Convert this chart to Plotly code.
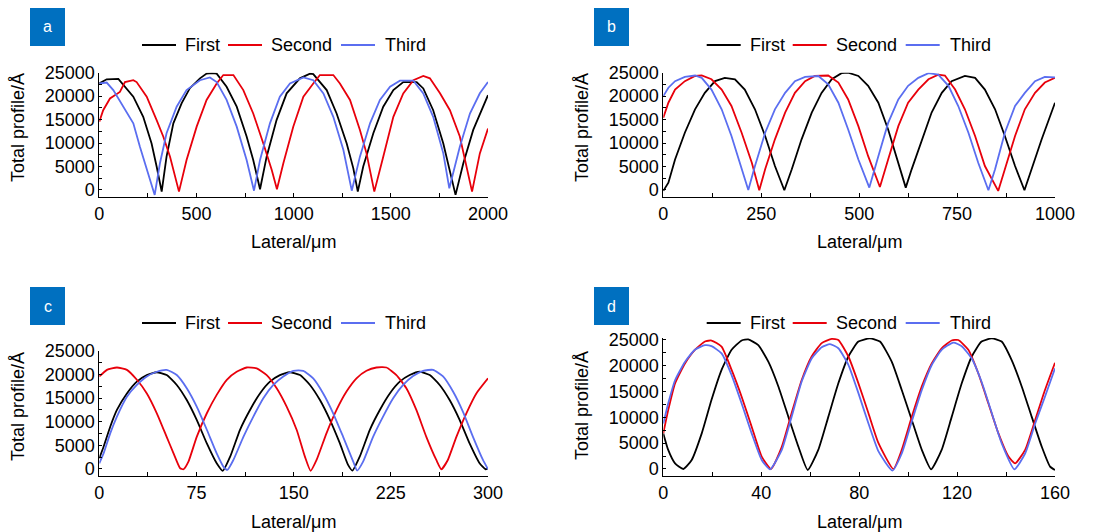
import plotly.graph_objects as go

W, H = 1111, 532

# ---------------- data ----------------
# Panel a
a_first_x = [0, 38, 98, 175, 226, 269, 295, 321, 346, 381, 424, 466, 518, 552, 580, 604, 655, 707, 758, 792, 827, 861, 912, 964, 1032, 1084, 1101, 1170, 1221, 1273, 1307, 1330, 1358, 1410, 1461, 1513, 1564, 1633, 1667, 1718, 1770, 1804, 1833, 1873, 1924, 2000]
a_first_y = [22700, 23600, 23700, 19900, 15600, 9900, 5000, -350, 7100, 14200, 18500, 21700, 23800, 24800, 24900, 24800, 22000, 17750, 11400, 6400, 150, 7100, 14900, 20600, 23800, 24800, 24700, 21300, 16300, 9900, 4600, -350, 5000, 12100, 17750, 21300, 23000, 23000, 21650, 17000, 9900, 4300, -1050, 5700, 12800, 20200]
a_second_x = [0, 20, 55, 106, 132, 175, 192, 244, 295, 329, 364, 410, 449, 501, 552, 604, 638, 690, 741, 792, 844, 887, 914, 947, 998, 1050, 1101, 1135, 1204, 1238, 1290, 1341, 1375, 1415, 1461, 1513, 1564, 1616, 1667, 1701, 1753, 1804, 1855, 1890, 1918, 1958, 2000]
a_second_y = [14550, 17000, 19500, 20900, 23000, 23400, 23000, 19900, 14900, 11400, 7100, -350, 6400, 13500, 19200, 22700, 24500, 24500, 21300, 16300, 9900, 4300, 150, 5700, 13500, 19900, 22700, 24500, 24500, 22700, 19200, 12800, 7800, -350, 7100, 15600, 20600, 23400, 24300, 23800, 20600, 17000, 11400, 5000, -350, 7800, 13100]
a_third_x = [0, 38, 72, 123, 175, 209, 252, 285, 312, 346, 398, 449, 518, 569, 604, 655, 707, 758, 796, 827, 878, 929, 981, 1050, 1101, 1153, 1204, 1256, 1299, 1341, 1393, 1444, 1496, 1547, 1616, 1667, 1718, 1770, 1801, 1855, 1907, 1958, 2000]
a_third_y = [22700, 22900, 21300, 17750, 14200, 9200, 3550, -1050, 5700, 12100, 17750, 21300, 23400, 24000, 23000, 19200, 13500, 6400, -150, 6400, 14200, 19900, 22700, 24000, 23400, 20600, 15600, 8500, -150, 7100, 14200, 19200, 22000, 23300, 23300, 20600, 15600, 7800, 350, 9200, 16300, 20600, 23000]

# Panel b
b_first_x = [0, 13, 30, 55, 81, 106, 132, 157, 183, 208, 234, 260, 285, 309, 328, 353, 379, 404, 430, 455, 472, 498, 523, 549, 574, 600, 619, 634, 660, 685, 711, 736, 770, 796, 821, 847, 872, 898, 922, 940, 966, 1000]
b_first_y = [-200, 1560, 6500, 12200, 17200, 20700, 23200, 23900, 23600, 21400, 17200, 11500, 5100, -70, 4400, 10800, 16500, 20700, 23600, 24900, 25000, 24300, 22200, 18600, 12900, 5800, 500, 4400, 10800, 16500, 20700, 23200, 24300, 23900, 21400, 17200, 11500, 5100, -70, 4400, 10800, 18600]
b_second_x = [0, 13, 30, 55, 81, 98, 123, 149, 174, 200, 226, 245, 260, 285, 311, 336, 362, 387, 421, 447, 472, 498, 523, 553, 574, 600, 625, 651, 677, 702, 719, 745, 770, 796, 821, 855, 872, 898, 923, 949, 974, 1000]
b_second_y = [15400, 18600, 21400, 23200, 24300, 24400, 23600, 21400, 17900, 12200, 5800, -70, 4400, 10800, 16500, 20700, 23200, 24300, 24400, 22900, 19300, 13600, 7200, 640, 6500, 13600, 18600, 21400, 23600, 24600, 24400, 21400, 17200, 11500, 5100, -200, 4400, 11500, 17200, 20700, 22900, 23900]
b_third_x = [0, 13, 30, 55, 81, 98, 123, 149, 174, 200, 217, 234, 260, 285, 311, 336, 362, 396, 421, 447, 472, 498, 526, 549, 574, 600, 625, 651, 677, 702, 728, 753, 779, 804, 830, 847, 872, 898, 923, 949, 974, 1000]
b_third_y = [20000, 21800, 23200, 24100, 24400, 23900, 21400, 17200, 11500, 4400, 0, 5100, 12200, 17200, 20700, 23200, 24100, 24300, 22500, 18600, 12900, 6500, 500, 7200, 14300, 19300, 22200, 23900, 24900, 24600, 22200, 17900, 12200, 5800, -70, 4400, 12200, 17900, 20700, 23200, 24100, 24000]

# Panel c
c_first_x = [0, 3.3, 8.5, 13.6, 21.3, 29, 36.7, 44.4, 52, 59.8, 67.5, 75.2, 83, 90.6, 95.3, 101, 108.6, 116.3, 124, 131.7, 139.4, 147, 154.9, 162.6, 170.3, 178, 185.7, 192, 195.4, 201, 208.8, 216.5, 224.2, 231.9, 239.6, 247.3, 255, 262.7, 270.4, 278.1, 285.8, 293.5, 298.1, 300]
c_first_y = [2260, 4700, 9000, 12500, 16000, 18500, 19900, 20500, 19900, 17800, 14600, 10400, 5400, 1200, -400, 2600, 8300, 12500, 16000, 18500, 19900, 20500, 19900, 17800, 14600, 10400, 5400, 850, -350, 2600, 8300, 12500, 16000, 18500, 19900, 20600, 19900, 17800, 14600, 10400, 5400, 1200, -70, 140]
c_second_x = [0, 5.9, 13.6, 21.3, 29, 36.7, 44.4, 52, 57.3, 62.4, 65, 68.8, 75.2, 83, 90.6, 98.4, 106, 113.8, 121.5, 129.2, 136.9, 144.6, 152.3, 158.7, 163.1, 167.7, 175.4, 183.1, 190.8, 198.5, 206.2, 213.9, 221.6, 229.3, 237, 244.7, 252.4, 260.1, 264, 269, 275.6, 283.3, 291, 300]
c_second_y = [19600, 21000, 21500, 21000, 18900, 16000, 11800, 6800, 3300, 140, -70, 1550, 6800, 11800, 15700, 18900, 20600, 21500, 21300, 19900, 17100, 13200, 8300, 2600, -400, 1900, 7600, 12500, 16400, 19200, 20800, 21500, 21500, 19900, 17100, 12500, 6800, 1900, -70, 1900, 6800, 11800, 16000, 19200]
c_third_x = [0, 3.3, 8.5, 13.6, 21.3, 29, 36.7, 44.4, 52, 59.8, 67.5, 75.2, 83, 90.6, 95.8, 98.9, 103.5, 111.2, 118.9, 126.6, 134.3, 142, 149.7, 157.4, 165.1, 172.8, 180.5, 188.2, 196, 199, 203.6, 211.3, 219, 226.8, 234.5, 242.2, 249.9, 257.6, 265.3, 273, 280.7, 288.4, 296.1, 300]
c_third_y = [1200, 3300, 7600, 11100, 15300, 17800, 19600, 20600, 21000, 19900, 17100, 13200, 8300, 3300, 500, -200, 1900, 6800, 11100, 15000, 17800, 19600, 20800, 20800, 19200, 16000, 11800, 6800, 1550, -350, 1550, 6800, 11100, 15000, 17800, 19700, 20800, 21000, 19600, 16400, 12100, 6800, 1900, -70]

# Panel d
d_first_x = [0, 2, 4.8, 8.2, 11.6, 15.7, 19.7, 23.8, 27.9, 32, 34.7, 38.8, 42.9, 47, 51.1, 55.2, 59, 63.3, 67.4, 71.5, 75.6, 79.7, 84.4, 88.5, 93.3, 97.4, 101.5, 105.6, 109.4, 113.7, 117.8, 121.9, 126, 130, 134.2, 138.2, 142.3, 146.4, 150.5, 154.6, 158, 160]
d_first_y = [6900, 3700, 1100, 0, 1750, 6900, 13400, 19200, 23100, 24900, 25100, 24000, 20800, 16000, 10100, 4300, -200, 3700, 10100, 16600, 21800, 24700, 25300, 24700, 20800, 15300, 9500, 3700, -60, 3700, 10100, 16600, 21800, 24700, 25300, 24700, 21100, 16000, 10100, 4300, 450, -200]
d_second_x = [0, 2, 4.8, 8.9, 12.9, 17, 19.7, 23.8, 27.9, 32, 36.1, 40.2, 44, 48.4, 52.4, 56.5, 60.6, 64.7, 68.8, 71.5, 75.6, 79.7, 83.8, 87.9, 94, 97.4, 101.5, 105.6, 109.7, 113.7, 117.8, 120.5, 124.6, 128.7, 132.8, 136.9, 141, 143.7, 147.8, 151.9, 155.9, 160]
d_second_y = [6900, 11400, 16600, 20500, 23100, 24700, 24900, 23700, 19200, 14000, 8200, 2400, 0, 4300, 10800, 17200, 21800, 24400, 25200, 25000, 21800, 16600, 10800, 5000, 0, 3700, 10100, 16000, 20500, 23400, 24900, 25000, 23100, 18500, 12700, 6900, 2400, 1100, 3700, 9500, 15300, 20600]
d_third_x = [0, 2, 4.8, 8.9, 12.9, 17, 19.7, 23.8, 27.9, 32, 36.1, 40.2, 43.6, 48.4, 52.4, 56.5, 60.6, 64.7, 68.1, 71.5, 75.6, 79.7, 83.8, 87.9, 93.6, 97.4, 101.5, 105.6, 109.7, 113.7, 118.5, 121.9, 126, 130, 134.2, 138.2, 143.4, 147.8, 151.9, 155.9, 160]
d_third_y = [8800, 12700, 17200, 20800, 23100, 24000, 23800, 22400, 18200, 12700, 6900, 1750, -60, 3700, 10100, 16900, 21400, 23600, 24200, 23400, 20200, 14700, 8800, 3400, -300, 3000, 9200, 15300, 20200, 23100, 24500, 23800, 21400, 16900, 10800, 5000, -60, 3000, 8800, 14000, 19500]

series_names = ["First", "Second", "Third"]
panel_letters = ["a", "b", "c", "d"]
x_ranges = [[0, 2000], [0, 1000], [0, 300], [0, 160]]
x_dticks = [500, 250, 75, 40]
y_tickvals = [0, 5000, 10000, 15000, 20000, 25000]
y_ticktext = ["0", "5000", "10000", "15000", "20000", "25000"]
y_minor_vals = [2500, 7500, 12500, 17500, 22500]
x_title = "Lateral/μm"
y_title = "Total profile/Å"

panels = [
    [(a_first_x, a_first_y), (a_second_x, a_second_y), (a_third_x, a_third_y)],
    [(b_first_x, b_first_y), (b_second_x, b_second_y), (b_third_x, b_third_y)],
    [(c_first_x, c_first_y), (c_second_x, c_second_y), (c_third_x, c_third_y)],
    [(d_first_x, d_first_y), (d_second_x, d_second_y), (d_third_x, d_third_y)],
]

# ---------------- style ----------------
colors = ["#000000", "#e8000b", "#5b6ef0"]
FONT = "Liberation Sans, Arial, sans-serif"
FS = 18

# pixel geometry: left, right, y-pixel of 25000, bottom, ymin, ymax
geom = [
    (99.3, 488.0, 72.7, 197.0, -1500, 25000),
    (663.3, 1055.0, 72.7, 197.0, -1500, 25000),
    (99.3, 488.0, 351.0, 476.0, -1500, 25000),
    (663.3, 1055.0, 340.0, 476.0, -1360, 25400),
]
line_shape = ["linear", "linear", "spline", "spline"]
legend_y = [45, 45, 323, 323]
legend_x0 = [142, 706.7, 142, 706.7]
legend_line_off = [0, 86, 199]     # start of each sample line, relative
legend_text_off = [41, 127, 241]   # start of each label, relative
legend_line_len = 34
box_pos = [(30, 8), (594, 8), (30, 287), (594, 287)]
ytitle_pos = [(18, 128), (582, 128), (18, 407), (582, 406)]
xtitle_y = [242, 242, 522, 522]

fig = go.Figure()
shapes, annotations = [], []
layout = dict(
    width=W, height=H, margin=dict(l=0, r=0, t=0, b=0, autoexpand=False),
    paper_bgcolor="white", plot_bgcolor="white", showlegend=False,
    font=dict(family=FONT, size=FS, color="#000000"),
)

for i, panel in enumerate(panels):
    xa = "x" if i == 0 else f"x{i+1}"
    ya = "y" if i == 0 else f"y{i+1}"
    for j, (xs, ys) in enumerate(panel):
        ln = dict(color=colors[j], width=1.8, shape=line_shape[i])
        if line_shape[i] == "spline":
            ln["smoothing"] = 0.5
        fig.add_trace(go.Scatter(x=xs, y=ys, mode="lines", name=series_names[j],
                                 line=ln, xaxis=xa, yaxis=ya))
    l, r, t25, b, ymin, ymax = geom[i]
    pix_per = (b - t25) / (25000 - ymin)
    top = t25 - (ymax - 25000) * pix_per
    xkey = "xaxis" if i == 0 else f"xaxis{i+1}"
    ykey = "yaxis" if i == 0 else f"yaxis{i+1}"
    layout[xkey] = dict(
        domain=[l / W, r / W], anchor=ya, range=x_ranges[i],
        dtick=x_dticks[i], tick0=0, ticks="inside", ticklen=4, tickcolor="#000",
        showline=True, linecolor="#000", linewidth=1, showgrid=False, zeroline=False,
        minor=dict(dtick=x_dticks[i] / 2, ticks="inside", ticklen=4, tickcolor="#000", showgrid=False),
        tickfont=dict(size=FS), automargin=False, fixedrange=True,
    )
    layout[ykey] = dict(
        domain=[1 - b / H, 1 - top / H], anchor=xa, range=[ymin, ymax],
        tickvals=y_tickvals, ticktext=y_ticktext, ticks="inside", ticklen=3, tickcolor="#000",
        showline=True, linecolor="#000", linewidth=1, showgrid=False, zeroline=False,
        minor=dict(tickvals=y_minor_vals, ticks="inside", ticklen=3, tickcolor="#000", showgrid=False),
        tickfont=dict(size=FS), automargin=False, fixedrange=True,
    )
    # axis titles
    tx, ty = ytitle_pos[i]
    annotations.append(dict(text=y_title, xref="paper", yref="paper", x=tx / W, y=1 - ty / H,
                            xanchor="center", yanchor="middle", textangle=-90, showarrow=False,
                            font=dict(size=FS)))
    annotations.append(dict(text=x_title, xref="paper", yref="paper", x=(l + r) / 2 / W,
                            y=1 - xtitle_y[i] / H, xanchor="center", yanchor="middle",
                            showarrow=False, font=dict(size=FS)))
    # legend (drawn)
    ly = 1 - legend_y[i] / H
    for j in range(3):
        x0 = legend_x0[i] + legend_line_off[j]
        shapes.append(dict(type="line", xref="paper", yref="paper", x0=x0 / W,
                           x1=(x0 + legend_line_len) / W, y0=ly, y1=ly,
                           line=dict(color=colors[j], width=2)))
        annotations.append(dict(text=series_names[j], xref="paper", yref="paper",
                                x=(legend_x0[i] + legend_text_off[j]) / W, y=ly,
                                xanchor="left", yanchor="middle", showarrow=False,
                                font=dict(size=FS)))
    # panel letter box
    bx, by = box_pos[i]
    shapes.append(dict(type="rect", xref="paper", yref="paper",
                       x0=bx / W, x1=(bx + 35) / W, y0=1 - (by + 38) / H, y1=1 - by / H,
                       fillcolor="#0070c0", line=dict(width=0)))
    annotations.append(dict(text=panel_letters[i], xref="paper", yref="paper",
                            x=(bx + 17.5) / W, y=1 - (by + 19) / H, xanchor="center",
                            yanchor="middle", showarrow=False,
                            font=dict(size=16, color="white", family=FONT)))

layout["shapes"] = shapes
layout["annotations"] = annotations
fig.update_layout(**layout)
fig.write_html("out.html", config={"displayModeBar": False},
               post_script="document.body.style.margin='0';document.body.style.overflow='hidden';")
